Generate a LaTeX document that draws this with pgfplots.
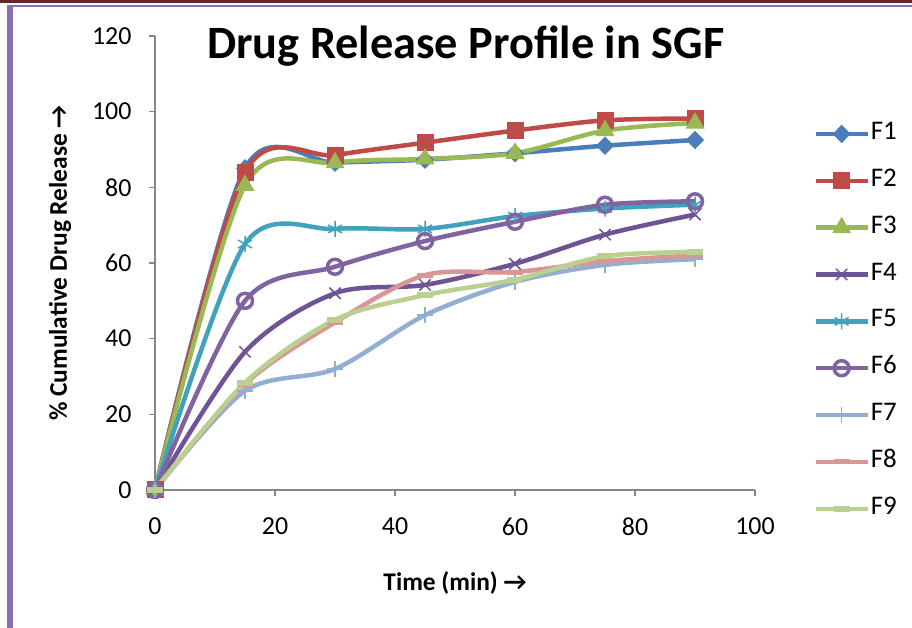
\documentclass[border=0pt]{standalone}
\usepackage{pgfplots}
\pgfplotsset{compat=1.18}
\usepackage{fontspec}
\setmainfont{Carlito}
\definecolor{cF1}{HTML}{4A7EBB}
\definecolor{cF2}{HTML}{BE4B48}
\definecolor{cF3}{HTML}{98B954}
\definecolor{cF4}{HTML}{6E5494}
\definecolor{cF5}{HTML}{40A2BD}
\definecolor{cF6}{HTML}{8064A2}
\definecolor{cF7}{HTML}{93AED5}
\definecolor{cF8}{HTML}{D99694}
\definecolor{cF9}{HTML}{BAD091}
\definecolor{topred}{HTML}{6B2427}
\definecolor{frame}{HTML}{8B6FAE}
\definecolor{axgray}{HTML}{868686}
\begin{document}
\begin{tikzpicture}[x=1bp,y=1bp]
\path[use as bounding box] (0,0) rectangle (912,628);
\fill[white] (0,0) rectangle (912,628);
\fill[topred] (0,624.5) rectangle (912,628);
\fill[frame] (7,620.5) rectangle (912,622.5);
\fill[frame] (7,0) rectangle (12.5,622.5);
\begin{axis}[
  at={(155bp,138bp)}, anchor=south west,
  scale only axis, width=600bp, height=454bp,
  xmin=0, xmax=100, ymin=0, ymax=120,
  xtick={0,20,...,100}, ytick={0,20,...,120},
  axis lines*=left,
  axis line style={axgray, line width=1.3bp},
  tick style={axgray, line width=1.3bp},
  tick align=outside, major tick length=6bp,
  clip=false,
  /pgf/number format/assume math mode=true,
  tick label style={font=\fontsize{26}{30}\selectfont, black},
  xticklabel style={yshift=-18bp},
  yticklabel style={xshift=-14bp},
  xlabel={\textbf{Time (min) →}},
  ylabel={\textbf{\% Cumulative Drug Release →}},
  label style={font=\fontsize{25.5}{30}\selectfont},
  xlabel style={at={(rel axis cs:0.5,-0.205)}, anchor=center},
  ylabel style={at={(rel axis cs:-0.158,0.5)}, anchor=center, rotate=0},
  title={\textbf{Drug Release Profile in SGF}},
  title style={at={(rel axis cs:0.518,0.9366)}, anchor=base, font=\fontsize{46.5}{54}\selectfont},
  every axis plot/.append style={smooth, line width=4.5bp},
  legend style={draw=none, fill=none, at={(rel axis cs:1.092,0.821)}, anchor=north west,
    font=\fontsize{27}{30}\selectfont, row sep=17.85bp,
    nodes={inner sep=1bp, text height=19bp, text depth=8bp}},
  legend cell align=left,
  legend image code/.code={\draw[mark repeat=2,mark phase=2,#1] plot coordinates {(0bp,0bp) (26bp,0bp) (52bp,0bp)};},
]
\addplot[cF1, mark=diamond*, mark size=8.5bp, mark options={solid, line width=1bp, xscale=1.3}]
  coordinates {(0,0) (15,85) (30,86.5) (45,87.3) (60,89) (75,91) (90,92.5)};
\addlegendentry{F1}
\addplot[cF2, mark=square*, mark size=8bp, mark options={solid, line width=1bp}]
  coordinates {(0,0) (15,84) (30,88.5) (45,91.8) (60,95) (75,97.7) (90,98.2)};
\addlegendentry{F2}
\addplot[cF3, mark=triangle*, mark size=10bp, mark options={solid, line width=1bp}]
  coordinates {(0,0) (15,80.5) (30,86.5) (45,87.5) (60,89) (75,95) (90,97)};
\addlegendentry{F3}
\addplot[cF4, mark=x, mark size=8bp, mark options={solid, line width=1.5bp}]
  coordinates {(0,0) (15,36.5) (30,52) (45,54.2) (60,59.8) (75,67.5) (90,72.8)};
\addlegendentry{F4}
\addplot[cF5, mark=asterisk, mark size=8bp, mark options={solid, line width=1.5bp}]
  coordinates {(0,0) (15,65) (30,69) (45,69) (60,72.4) (75,74.4) (90,75.4)};
\addlegendentry{F5}
\addplot[cF6, mark=o, mark size=7.5bp, mark options={solid, line width=3.5bp, fill=white}]
  coordinates {(0,0) (15,50) (30,59) (45,65.8) (60,70.9) (75,75.4) (90,76.3)};
\addlegendentry{F6}
\addplot[cF7, mark=+, mark size=8bp, mark options={solid, line width=1.5bp}]
  coordinates {(0,0) (15,26.2) (30,32) (45,46.2) (60,55) (75,59.5) (90,61)};
\addlegendentry{F7}
\addplot[cF8, mark=-, mark size=8bp, mark options={solid, line width=5bp}]
  coordinates {(0,0) (15,28) (30,44.3) (45,56.8) (60,57.6) (75,60.5) (90,62)};
\addlegendentry{F8}
\addplot[cF9, mark=-, mark size=8bp, mark options={solid, line width=6bp}]
  coordinates {(0,0) (15,28.4) (30,45) (45,51.5) (60,55.6) (75,61.8) (90,62.9)};
\addlegendentry{F9}
\end{axis}
\end{tikzpicture}
\end{document}
